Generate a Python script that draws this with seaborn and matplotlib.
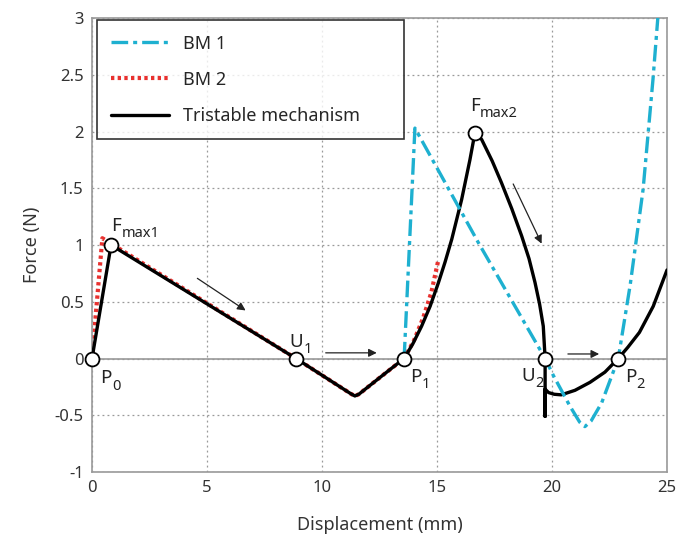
import matplotlib
matplotlib.use("Agg")
import matplotlib.pyplot as plt
from matplotlib.lines import Line2D
import seaborn as sns
import pandas as pd

# Tristable mechanism (black)
tri_x = [0, 0.83, 8.87, 11.25, 11.43, 11.6, 12.5, 13.0, 13.57, 13.95, 14.33, 14.7, 15.06, 15.35, 15.64,
         16.07, 16.43, 16.65, 16.94, 17.4, 17.8, 18.25, 18.68, 19.0, 19.26, 19.46, 19.62, 19.7,
         19.7, 19.7, 19.85, 20.1, 20.4, 21.0, 21.65, 22.3, 22.88, 23.3, 23.8, 24.4, 25.0]
tri_y = [0, 1.0, 0, -0.31, -0.33, -0.315, -0.17, -0.09, 0, 0.13, 0.285, 0.46, 0.667, 0.85, 1.05,
         1.40, 1.75, 1.99, 1.93, 1.74, 1.55, 1.32, 1.08, 0.88, 0.67, 0.48, 0.285, 0,
         -0.51, -0.27, -0.30, -0.315, -0.32, -0.28, -0.21, -0.12, 0, 0.1, 0.23, 0.46, 0.78]

# BM 1 (cyan dash-dot)
bm1_x = [13.57, 14.04, 16.8, 19.7, 20.06, 20.78, 21.2, 21.43, 21.7, 22.16, 22.88, 23.4, 23.96, 24.39, 24.6]
bm1_y = [0, 2.03, 1.02, 0, -0.15, -0.42, -0.56, -0.60, -0.55, -0.39, 0, 0.65, 1.49, 2.46, 3.0]

# BM 2 (red dotted)
bm2_x = [0, 0.45, 8.87, 11.25, 11.43, 11.6, 12.5, 13.0, 13.57, 14.0, 14.4, 14.75, 15.06]
bm2_y = [0, 1.06, 0, -0.31, -0.33, -0.315, -0.17, -0.09, 0, 0.16, 0.36, 0.58, 0.87]

# key points and their labels (letter + subscript)
pt_x = [0, 0.83, 8.87, 13.57, 16.65, 19.7, 22.88]
pt_y = [0, 1.0, 0, 0, 1.99, 0, 0]
pt_base = ["P", "F", "U", "P", "F", "U", "P"]
pt_sub = ["0", "max1", "1", "1", "max2", "2", "2"]
lbl_x = [0.35, 0.85, 8.6, 13.83, 16.43, 18.68, 23.17]
lbl_y = [-0.22, 1.12, 0.10, -0.21, 2.18, -0.20, -0.21]

# arrows (start x, start y, end x, end y)
arrows = [(4.48, 0.72, 6.78, 0.41), (10.04, 0.05, 12.5, 0.05),
          (18.26, 1.56, 19.6, 0.99), (20.57, 0.04, 22.17, 0.04)]

sns.set_style("white")
plt.rcParams["font.family"] = ["Noto Sans", "DejaVu Sans"]

fig = plt.figure(figsize=(6.78, 5.46), dpi=100)
ax = fig.add_axes([0.1357, 0.1355, 0.8481, 0.8315])

ax.grid(True, color="#999999", linestyle=(0, (1.5, 2.5)), linewidth=0.9)
ax.axhline(0, color="#999999", lw=1.2, zorder=1)

tri = pd.DataFrame({"x": tri_x, "y": tri_y})
bm1 = pd.DataFrame({"x": bm1_x, "y": bm1_y})
bm2 = pd.DataFrame({"x": bm2_x, "y": bm2_y})

cyan = "#1eb0d0"
red = "#e8312f"
dashdot = (0, (5, 1.5, 1.2, 1.5))
dotted = (0, (0.8, 0.8))

sns.lineplot(data=bm2, x="x", y="y", sort=False, estimator=None, ax=ax,
             color=red, lw=3, linestyle=dotted, zorder=2)
sns.lineplot(data=tri, x="x", y="y", sort=False, estimator=None, ax=ax,
             color="black", lw=2.4, zorder=3)
sns.lineplot(data=bm1, x="x", y="y", sort=False, estimator=None, ax=ax,
             color=cyan, lw=2.4, linestyle=dashdot, zorder=4)

sns.scatterplot(x=pt_x, y=pt_y, ax=ax, s=100, color="white", edgecolor="black",
                linewidth=1.3, zorder=6, clip_on=False)

for base, sub, lx, ly in zip(pt_base, pt_sub, lbl_x, lbl_y):
    t = ax.text(lx, ly, base, fontsize=13.5, ha="left", va="baseline", zorder=7,
                color="#222222")
    ax.annotate(sub, xy=(1, 0), xycoords=t, xytext=(0.3, -1.5), textcoords="offset points",
                fontsize=10.5, ha="left", va="baseline", zorder=7, color="#222222")

for x0, y0, x1, y1 in arrows:
    ax.annotate("", xy=(x1, y1), xytext=(x0, y0),
                arrowprops=dict(arrowstyle="-|>", color="#222222", lw=0.9,
                                mutation_scale=12), zorder=5)

ax.set_xlim(0, 25)
ax.set_ylim(-1, 3)
ax.set_xticks([0, 5, 10, 15, 20, 25])
ax.set_yticks([-1, -0.5, 0, 0.5, 1, 1.5, 2, 2.5, 3])
ax.set_yticklabels(["-1", "-0.5", "0", "0.5", "1", "1.5", "2", "2.5", "3"])
ax.tick_params(labelsize=12, length=3, direction="in", color="#999999", pad=6,
               labelcolor="#333333")
for sp in ax.spines.values():
    sp.set_color("#999999")
    sp.set_linewidth(1.2)

ax.set_xlabel("Displacement (mm)", fontsize=13, labelpad=14, color="#333333")
ax.set_ylabel("Force (N)", fontsize=13, labelpad=10, color="#333333")

handles = [Line2D([], [], color=cyan, lw=2.4, linestyle=dashdot),
           Line2D([], [], color=red, lw=3, linestyle=dotted),
           Line2D([], [], color="black", lw=2.4)]
leg = ax.legend(handles, ["BM 1", "BM 2", "Tristable mechanism"], loc="upper left",
                bbox_to_anchor=(0.008, 0.0, 0.535, 0.995), mode="expand",
                fontsize=13, frameon=True, fancybox=False, borderaxespad=0,
                borderpad=0.8, labelspacing=1.0, handlelength=3.2)
leg.get_frame().set_edgecolor("black")
leg.get_frame().set_linewidth(1.2)
leg.set_zorder(10)

fig.savefig("out.png", dpi=100)
